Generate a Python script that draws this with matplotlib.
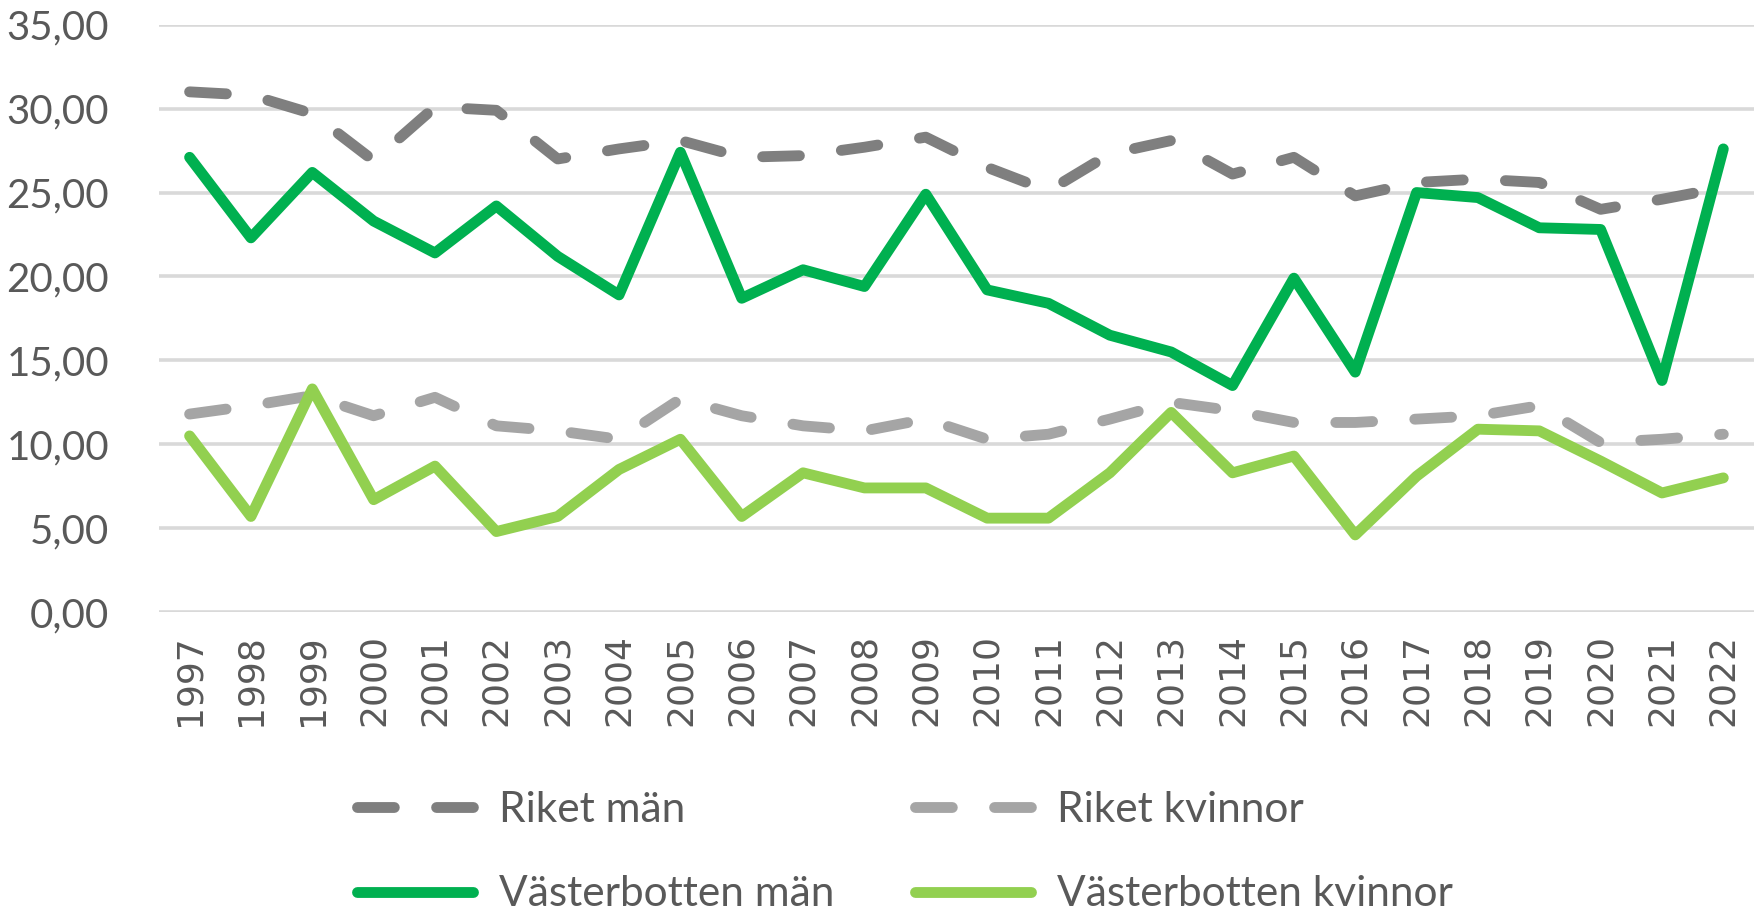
import matplotlib
matplotlib.use("Agg")
import matplotlib.pyplot as plt

years = [str(y) for y in range(1997, 2023)]

riket_man = [31.0, 30.8, 29.7, 26.9, 30.1, 29.9, 27.0, 27.6, 28.1, 27.1, 27.2, 27.7,
             28.3, 26.5, 25.1, 27.3, 28.1, 26.1, 27.1, 24.8, 25.6, 25.8, 25.6, 24.0,
             24.6, 25.3]
riket_kvinnor = [11.8, 12.3, 12.9, 11.7, 12.8, 11.1, 10.8, 10.3, 12.7, 11.7, 11.1, 10.8,
                 11.5, 10.3, 10.6, 11.5, 12.5, 12.0, 11.3, 11.3, 11.5, 11.7, 12.3, 10.1,
                 10.3, 10.6]
vbn_man = [27.1, 22.3, 26.2, 23.3, 21.4, 24.2, 21.2, 18.9, 27.4, 18.7, 20.4, 19.4,
           24.9, 19.2, 18.4, 16.5, 15.5, 13.5, 19.9, 14.3, 25.0, 24.7, 22.9, 22.8,
           13.8, 27.6]
vbn_kvinnor = [10.5, 5.7, 13.3, 6.7, 8.7, 4.8, 5.7, 8.5, 10.3, 5.7, 8.3, 7.4,
               7.4, 5.6, 5.6, 8.3, 11.9, 8.3, 9.3, 4.6, 8.1, 10.9, 10.8, 9.0,
               7.1, 8.0]

yticks = [0, 5, 10, 15, 20, 25, 30, 35]
ytick_labels = ["0,00", "5,00", "10,00", "15,00", "20,00", "25,00", "30,00", "35,00"]

TEXT = "#595959"
narrow = ["Lato", "DejaVu Sans"]

fig = plt.figure(figsize=(17.54, 9.15), dpi=100)
ax = fig.add_axes([0.0906, 0.331, 0.9094, 0.642])

x = list(range(len(years)))
lw = 7.8
dash = (3.4, 3.9)
l1, = ax.plot(x, riket_man, color="#7F7F7F", lw=lw, dashes=dash,
              dash_capstyle="round", dash_joinstyle="round", label="Riket män")
l2, = ax.plot(x, riket_kvinnor, color="#A5A5A5", lw=lw, dashes=dash,
              dash_capstyle="round", dash_joinstyle="round", label="Riket kvinnor")
l3, = ax.plot(x, vbn_man, color="#00B050", lw=lw, solid_joinstyle="round",
              solid_capstyle="round", label="Västerbotten män")
l4, = ax.plot(x, vbn_kvinnor, color="#92D050", lw=lw, solid_joinstyle="round",
              solid_capstyle="round", label="Västerbotten kvinnor")

ax.set_xlim(-0.5, len(years) - 0.5)
ax.set_ylim(0, 35)
ax.set_yticks(yticks)
ax.set_yticklabels(ytick_labels, family=narrow, fontsize=29, color=TEXT)
ax.set_xticks(x)
ax.set_xticklabels(years, rotation=90, fontsize=26, color=TEXT)
ax.tick_params(axis="both", length=0)
ax.tick_params(axis="y", pad=36)
ax.tick_params(axis="x", pad=16)
ax.grid(axis="y", color="#D9D9D9", lw=2.6)
ax.set_axisbelow(True)
for s in ax.spines.values():
    s.set_visible(False)

leg = fig.legend([l1, l3, l2, l4],
                 ["Riket män", "Västerbotten män", "Riket kvinnor", "Västerbotten kvinnor"],
                 ncol=2, loc="lower left", bbox_to_anchor=(0.182, -0.04),
                 frameon=False, handlelength=2.74, handletextpad=0.6,
                 columnspacing=1.91, labelspacing=1.1,
                 prop={"family": narrow, "size": 30.5})
for t in leg.get_texts():
    t.set_color(TEXT)

fig.savefig("out.png", dpi=100)
